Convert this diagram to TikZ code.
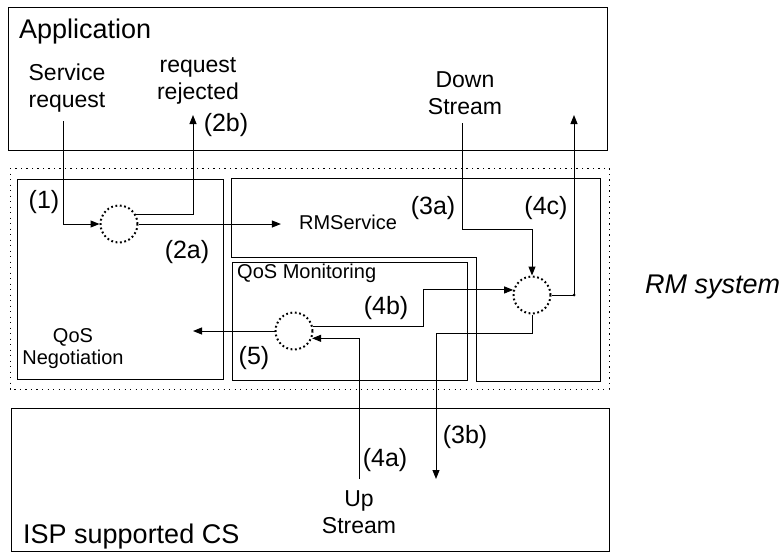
\documentclass[tikz,border=0pt]{standalone}
\usepackage{fontspec}
\setmainfont{Liberation Sans}
\usetikzlibrary{arrows.meta,positioning}
\tikzset{
  box/.style={draw, line width=1pt, inner sep=0pt, anchor=north west},
  sysbox/.style={draw, line width=1pt, dash pattern=on 1.2pt off 4.3pt},
  hub/.style={circle, draw, line width=2pt, dash pattern=on 1.8pt off 2.6pt,
    minimum size=37pt, inner sep=0pt},
  arr/.style={-{Triangle[length=9pt, width=7pt]}, line width=1pt},
  flow/.style={line width=1pt},
  titletxt/.style={font=\fontsize{27}{30}\selectfont, inner sep=0pt},
  steptxt/.style={font=\fontsize{25}{28}\selectfont, inner sep=0pt},
  streamtxt/.style={font=\fontsize{23}{27}\selectfont, align=center, inner sep=0pt},
  parttxt/.style={font=\fontsize{20}{22}\selectfont, align=center, inner sep=0pt}
}

\begin{document}
\begin{tikzpicture}[x=1pt, y=-1pt]
  \useasboundingbox (0,0) rectangle (784,552);
  % outer blocks
  \node[box, minimum width=599pt, minimum height=143pt] (app) at (8,7) {};
  \node[box, minimum width=598pt, minimum height=143pt] (isp) at (11,408) {};
  \draw[sysbox] (10,168) rectangle (609,389);
  \node[box, minimum width=206pt, minimum height=200pt] (nego) at (17,179) {};
  \draw[flow] (231,178) -- (600,178) -- (600,381) -- (476,381) -- (476,257) -- (231,257) -- cycle;
  \node[box, minimum width=235pt, minimum height=118pt] (mon) at (232,262) {};

  % texts
  \node[titletxt, anchor=base west] (apptxt) at (19,38) {Application};
  \node[titletxt, anchor=base west] (isptxt) at (23,543) {ISP supported CS};
  \node[titletxt, anchor=base west, font=\fontsize{27}{30}\selectfont\itshape] (rmsys) at (645,293) {RM system};
  \node[streamtxt] (svcreq) at (67,88) {Service\\request};
  \node[streamtxt] (rej) at (198,81) {request\\rejected};
  \node[streamtxt] (down) at (465,93) {Down\\Stream};
  \node[streamtxt] (upstr) at (359,512) {Up\\Stream};
  \node[parttxt] (negotxt) at (73,349) {QoS\\Negotiation};
  \node[parttxt] (rms) at (348,222) {RMService};
  \node[parttxt, anchor=west] (montxt) at (237,273) {QoS Monitoring};

  % dispatch points
  \node[hub] (hub1) at (119,224) {};
  \node[hub] (hub2) at (294,331) {};
  \node[hub] (hub3) at (532,295) {};

  \coordinate (reqin) at (63,121);
  \coordinate (rejout) at (193,115);
  \coordinate (dsin) at (462,123);
  \coordinate (dsout) at (574,115);
  \coordinate (usin) at (359,479);
  \coordinate (ispout) at (436,479);
  \coordinate (negoin) at (193,331);

  % flows
  \draw[arr] (reqin) |- (hub1);
  \draw[arr] (hub1.28) -| (rejout);
  \draw[arr, shorten >=18pt] (hub1.east) -- (hub1.east -| rms.west);
  \draw[arr] (dsin) |- ([yshift=46pt]hub3.north) -- (hub3.north);
  \draw[arr] (hub3.east) -| (dsout);
  \fill (hub3.east -| dsout) circle (1.5pt);
  \draw[arr] (usin) |- (hub2.-22);
  \draw[arr] (hub2.12) -- ++(110,0) |- (hub3.165);
  \draw[arr] (hub2) -- (negoin);
  \draw[arr] (hub3.south) -- ++(0,19) -| (ispout);

  % step numbers
  \node[steptxt] (s1) at (44,202) {(1)};
  \node[steptxt] (s2a) at (187,252) {(2a)};
  \node[steptxt] (s2b) at (226,125) {(2b)};
  \node[steptxt] (s3a) at (433,208) {(3a)};
  \node[steptxt] (s3b) at (465,437) {(3b)};
  \node[steptxt] (s4a) at (385,460) {(4a)};
  \node[steptxt] (s4b) at (386,308) {(4b)};
  \node[steptxt] (s4c) at (546,208) {(4c)};
  \node[steptxt] (s5) at (254,358) {(5)};
\end{tikzpicture}
\end{document}
